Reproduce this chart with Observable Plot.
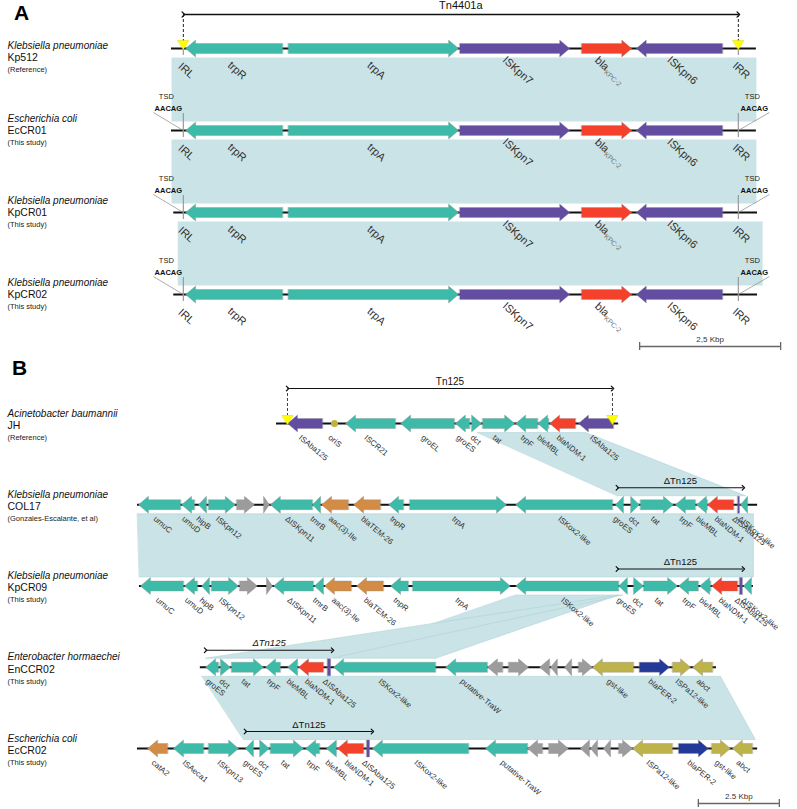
<!DOCTYPE html>
<html>
<head>
<meta charset="utf-8">
<script src="https://cdn.jsdelivr.net/npm/d3@7"></script>
<script src="https://cdn.jsdelivr.net/npm/@observablehq/plot@0.6"></script>
<style>
  html, body { margin: 0; padding: 0; background: #fff; }
  #chart svg { display: block; }
</style>
</head>
<body>
<div id="chart"></div>
<script>
// ======================= DATA =======================
// ---------- Panel A : Tn4401a (positions in kbp, aligned) ----------
const panelA_strains = ["Kp512", "EcCR01", "KpCR01", "KpCR02"];
const panelA_species = ["Klebsiella pneumoniae", "Escherichia coli", "Klebsiella pneumoniae", "Klebsiella pneumoniae"];
const panelA_sources = ["(Reference)", "(This study)", "(This study)", "(This study)"];
const panelA_contigs = [[0, 10.37], [0, 10.37], [0.04, 10.39], [0.04, 10.39]];
const panelA_genes = [ // name, start, end, strand, family
  ["trpR",     0.25, 1.97, -1, "gene"],
  ["trpA",     2.07, 5.09,  1, "gene"],
  ["ISKpn7",   5.11, 7.06,  1, "IS"],
  ["blaKPC-2", 7.27, 8.16,  1, "bla"],
  ["ISKpn6",   8.24, 9.77, -1, "IS"]
];
const panelA_repeats = [["IRL", 0.21], ["IRR", 10.05]];
const panelA_transposon = [["Tn4401a", 0.21, 10.05]];
const panelA_tsdStrains = [1, 2, 3];
const panelA_tsdSeq = "AACAG";
const panelA_homology = [ // upper, lower, upperStart, upperEnd, lowerStart, lowerEnd
  [0, 1, 0, 10.37, 0, 10.37],
  [1, 2, 0, 10.37, 0, 10.37],
  [2, 3, 0.11, 10.48, 0.11, 10.48]
];
const panelA_scale = [["2,5 Kbp", 8.30, 2.5]];

// ---------- Panel B : Tn125 (positions in kbp, aligned) ----------
const panelB_strains = ["JH", "COL17", "KpCR09", "EnCCR02", "EcCR02"];
const panelB_species = ["Acinetobacter baumannii", "Klebsiella pneumoniae", "Klebsiella pneumoniae", "Enterobacter hormaechei", "Escherichia coli"];
const panelB_sources = ["(Reference)", "(Gonzales-Escalante, et al)", "(This study)", "(This study)", "(This study)"];
const panelB_contigs = [[4.29, 14.85], [0, 19.14], [0.06, 19.01], [1.94, 17.87], [0, 19.14]];
const genes_JH = [
  ["ISAba125", 4.63, 5.71, -1, "IS"],
  ["ISCR21", 6.42, 7.96, -1, "gene"],
  ["groEL", 8.12, 9.78, -1, "gene"],
  ["groES", 9.81, 10.25, -1, "gene"],
  ["dct", 10.31, 10.62, 1, "gene"],
  ["tat", 10.65, 11.64, 1, "gene"],
  ["trpF", 11.67, 12.35, -1, "gene"],
  ["bleMBL", 12.35, 12.69, -1, "gene"],
  ["blaNDM-1", 12.72, 13.52, -1, "bla"],
  ["ISAba125", 13.61, 14.69, -1, "IS"]
];
const origin_JH = [["oriS", 6.08]];
const genes_COL17 = [
  ["umuC", 0.03, 1.33, -1, "gene"],
  ["umuD", 1.36, 1.76, -1, "gene"],
  ["hipB", 1.88, 2.13, -1, "gene"],
  ["ISKpn12", 2.19, 3.02, 1, "gene"],
  ["", 3.06, 3.61, 1, "hyp"],
  ["", 3.89, 4.07, 1, "hyp"],
  ["ΔISKpn11", 4.10, 5.40, -1, "gene"],
  ["tmrB", 5.40, 5.65, -1, "gene"],
  ["aac(3)-IIe", 5.68, 6.51, -1, "res"],
  ["blaTEM-26", 6.67, 7.50, -1, "res"],
  ["tnpR", 7.75, 8.21, -1, "gene"],
  ["trpA", 8.40, 11.39, 1, "gene"],
  ["ISKox2-like", 11.67, 14.66, -1, "gene"],
  ["groES", 14.75, 15.00, -1, "gene"],
  ["dct", 15.22, 15.49, 1, "gene"],
  ["tat", 15.52, 16.54, 1, "gene"],
  ["trpF", 16.60, 17.22, -1, "gene"],
  ["bleMBL", 17.25, 17.59, -1, "gene"],
  ["blaNDM-1", 17.59, 18.40, -1, "bla"],
  ["ΔISAba125", 18.52, 18.58, 0, "IS"],
  ["ΔISKox2-like", 18.61, 18.83, -1, "gene"]
];
const genes_KpCR09 = [
  ["umuC", 0.09, 1.42, -1, "gene"],
  ["umuD", 1.45, 1.85, -1, "gene"],
  ["hipB", 1.98, 2.22, -1, "gene"],
  ["ISKpn12", 2.28, 3.12, 1, "gene"],
  ["", 3.15, 3.70, 1, "hyp"],
  ["", 3.98, 4.17, 1, "hyp"],
  ["ΔISKpn11", 4.20, 5.43, -1, "gene"],
  ["tmrB", 5.46, 5.74, -1, "gene"],
  ["aac(3)-IIe", 5.77, 6.60, -1, "res"],
  ["blaTEM-26", 6.76, 7.59, -1, "res"],
  ["tnpR", 7.81, 8.36, -1, "gene"],
  ["trpA", 8.49, 11.51, 1, "gene"],
  ["ISKox2-like", 11.67, 14.85, -1, "gene"],
  ["groES", 14.85, 15.12, -1, "gene"],
  ["dct", 15.31, 15.62, 1, "gene"],
  ["tat", 15.62, 16.67, 1, "gene"],
  ["trpF", 16.70, 17.31, -1, "gene"],
  ["bleMBL", 17.35, 17.69, -1, "gene"],
  ["blaNDM-1", 17.72, 18.52, -1, "bla"],
  ["ΔISAba125", 18.58, 18.67, 0, "IS"],
  ["ΔISKox2-like", 18.70, 18.95, -1, "gene"]
];
const genes_EnCCR02 = [
  ["groES", 2.10, 2.50, -1, "gene"],
  ["dct", 2.56, 2.87, 1, "gene"],
  ["tat", 2.90, 3.89, 1, "gene"],
  ["trpF", 3.95, 4.41, -1, "gene"],
  ["bleMBL", 4.63, 4.94, -1, "gene"],
  ["blaNDM-1", 4.97, 5.74, -1, "bla"],
  ["ΔISAba125", 5.86, 5.96, 0, "IS"],
  ["ISKox2-like", 6.05, 9.20, -1, "gene"],
  ["putative-TraW", 9.51, 10.80, -1, "gene"],
  ["", 10.80, 11.27, -1, "hyp"],
  ["", 11.45, 12.07, 1, "hyp"],
  ["", 12.41, 12.72, -1, "hyp"],
  ["", 12.75, 12.96, -1, "hyp"],
  ["", 13.18, 13.40, -1, "hyp"],
  ["", 13.61, 14.04, 1, "hyp"],
  ["gst-like", 14.04, 15.31, -1, "olive"],
  ["blaPER-2", 15.49, 16.42, 1, "per"],
  ["ISPa12-like", 16.51, 17.07, 1, "olive"],
  ["abct", 17.13, 17.75, -1, "olive"]
];
const genes_EcCR02 = [
  ["catA2", 0.31, 0.93, -1, "res"],
  ["ISAeca1", 1.11, 2.04, -1, "gene"],
  ["ISKpn13", 2.19, 3.12, 1, "gene"],
  ["groES", 3.33, 3.58, -1, "gene"],
  ["dct", 3.77, 4.07, 1, "gene"],
  ["tat", 4.10, 5.12, 1, "gene"],
  ["trpF", 5.19, 5.62, -1, "gene"],
  ["bleMBL", 5.83, 6.14, -1, "gene"],
  ["blaNDM-1", 6.17, 6.98, -1, "bla"],
  ["ΔISAba125", 7.07, 7.16, 0, "IS"],
  ["ISKox2-like", 7.25, 10.22, -1, "gene"],
  ["putative-TraW", 10.74, 12.04, -1, "gene"],
  ["", 12.04, 12.50, -1, "hyp"],
  ["", 12.69, 13.30, 1, "hyp"],
  ["", 13.67, 13.95, -1, "hyp"],
  ["", 13.98, 14.20, -1, "hyp"],
  ["", 14.38, 14.60, -1, "hyp"],
  ["", 14.85, 15.28, 1, "hyp"],
  ["ISPa12-like", 15.28, 16.51, -1, "olive"],
  ["blaPER-2", 16.70, 17.62, 1, "per"],
  ["gst-like", 17.72, 18.30, 1, "olive"],
  ["abct", 18.36, 18.98, -1, "olive"]
];
const panelB_genes = [genes_JH, genes_COL17, genes_KpCR09, genes_EnCCR02, genes_EcCR02];
const panelB_transposon = [["Tn125", 4.63, 14.66]];
const panelB_deltaTn = [ // strain, start, end
  [1, 14.81, 18.70],
  [2, 14.81, 18.70],
  [3, 2.10, 6.02],
  [4, 3.33, 7.25]
];
const panelB_deltaLabel = "ΔTn125";
const panelB_homology = [ // upper, lower, upperStart, upperEnd, lowerStart, lowerEnd
  [0, 1, 10.49, 13.83, 14.81, 18.77],
  [1, 2, 0, 19.01, 0.06, 19.01],
  [2, 3, 11.67, 14.85, 6.05, 9.20],
  [2, 3, 14.85, 14.98, 2.10, 5.96],
  [3, 4, 1.99, 17.99, 3.27, 19.07]
];
const panelB_scale = [["2.5 Kbp", 17.31, 2.5]];

// ======================= STYLE / LAYOUT =======================
const FONT = "'Liberation Sans', Arial, Helvetica, sans-serif";
const COLORS = {gene: "#3ebba8", IS: "#624da0", bla: "#f4412b", hyp: "#9c9c9c",
                res: "#d28c46", olive: "#beb24b", per: "#243a99"};
const SHADE = "#c9e3e6";
const LA = {width: 797, height: 355, xr: [171, 756], xd: [0, 10.372], yr: [48, 294], n: 4};
const LB = {width: 797, height: 454, xr: [137, 757], xd: [0, 19.136], yr: [68, 393], n: 5};
const pxk = L => (L.xr[1] - L.xr[0]) / (L.xd[1] - L.xd[0]);   // px per kbp
const ppt = L => (L.yr[1] - L.yr[0]) / (L.n - 1);              // px per track

function flattenGenes(perTrack) {
  const rows = [];
  perTrack.forEach((list, t) => list.forEach(g =>
    rows.push({track: t, name: g[0], start: g[1], end: g[2], strand: g[3], type: g[4]})));
  return rows;
}
function arrowVerts(rows, L) {
  const k = pxk(L), p = ppt(L), out = [];
  const bh = 5 / p, hh = 8.5 / p;
  rows.forEach((g, id) => {
    const head = Math.min(10 / k, g.end - g.start);
    let pts;
    if (g.strand > 0) { const b = g.end - head; pts = [[g.start,-bh],[b,-bh],[b,-hh],[g.end,0],[b,hh],[b,bh],[g.start,bh]]; }
    else if (g.strand < 0) { const b = g.start + head; pts = [[g.end,-bh],[b,-bh],[b,-hh],[g.start,0],[b,hh],[b,bh],[g.end,bh]]; }
    else { pts = [[g.start,-hh],[g.end,-hh],[g.end,hh],[g.start,hh]]; }
    pts.forEach(([x, d]) => out.push({id, x, y: g.track + d, fill: COLORS[g.type]}));
  });
  return out;
}
function homologyVerts(rows, L) {
  const p = ppt(L), out = [];
  rows.forEach((h, id) => {
    const yu = h[0] + 9 / p, yl = h[1] - 9 / p;
    [[h[2], yu], [h[3], yu], [h[5], yl], [h[4], yl]].forEach(([x, y]) => out.push({id, x, y}));
  });
  return out;
}
function triangleVerts(positions, track, L) {
  const k = pxk(L), p = ppt(L), out = [];
  positions.forEach((x, id) => {
    [[x - 5.5 / k, -8 / p], [x + 5.5 / k, -8 / p], [x, 1 / p]].forEach(([vx, d]) => out.push({id, x: vx, y: track + d}));
  });
  return out;
}
function speciesMarks(species, strains, sources, L, offs, nudge) {
  const p = ppt(L);
  const y = o => (d, i) => i + (o + (nudge ? nudge[i] : 0)) / p;
  return [
    Plot.text(species, {frameAnchor: "left", y: y(offs[0]), text: d => d, dx: 7, textAnchor: "start",
      fontSize: 10, fontStyle: "italic", fill: "#111"}),
    Plot.text(strains, {frameAnchor: "left", y: y(offs[1]), text: d => d, dx: 7, textAnchor: "start",
      fontSize: 10.5, fill: "#111"}),
    Plot.text(sources, {frameAnchor: "left", y: y(offs[2]), text: d => d, dx: 7, textAnchor: "start",
      fontSize: 7.5, fill: "#222"})
  ];
}
function scaleMarks(scale, track, off, L) {
  const p = ppt(L), yb = track + off / p;
  return [
    Plot.ruleY(scale, {x1: d => d[1], x2: d => d[1] + d[2], y: () => yb, stroke: "#666", strokeWidth: 1.3}),
    Plot.ruleX(scale.flatMap(d => [d[1], d[1] + d[2]]), {x: d => d, y1: () => yb - 4 / p, y2: () => yb + 4 / p, stroke: "#666", strokeWidth: 1.3}),
    Plot.text(scale, {x: d => d[1] + d[2] / 2, y: () => yb - 7 / p, text: d => d[0], fontSize: 8, fill: "#333"})
  ];
}
function panelLetter(letter, dx, dy) {
  return Plot.text([letter], {frameAnchor: "top-left", text: d => d, dx, dy, lineAnchor: "middle",
    textAnchor: "middle", fontSize: 21, fontWeight: "bold", fill: "#000"});
}

// ======================= PANEL A =======================
const pA = ppt(LA), kA = pxk(LA);
const rowsA = flattenGenes(panelA_strains.map(() => panelA_genes));
const irl = panelA_repeats[0][1], irr = panelA_repeats[1][1];
const labelRowsA = [];
panelA_strains.forEach((s, t) => {
  panelA_repeats.forEach(r => labelRowsA.push({track: t, name: r[0], pos: r[1]}));
  panelA_genes.forEach(g => labelRowsA.push({track: t, name: g[0], pos: (g[1] + g[2]) / 2}));
});
const tnYA = -34 / pA;

const plotA = Plot.plot({
  width: LA.width, height: LA.height, margin: 0,
  x: {domain: LA.xd, range: LA.xr, axis: null},
  y: {domain: [0, LA.n - 1], range: LA.yr, axis: null},
  color: {type: "identity"},
  style: {fontFamily: FONT, background: "#fff", overflow: "visible"},
  marks: [
    Plot.line(homologyVerts(panelA_homology, LA), {x: "x", y: "y", z: "id", fill: SHADE, stroke: "none", curve: "linear-closed"}),
    Plot.ruleY(panelA_contigs, {y: (d, i) => i, x1: d => d[0], x2: d => d[1], stroke: "#111", strokeWidth: 2}),
    Plot.ruleX(panelA_strains.flatMap((s, t) => [{t, x: irl}, {t, x: irr}]), {
      x: "x", y1: d => d.t - (d.t === 0 ? 7 : 17) / pA, y2: d => d.t + 7 / pA, stroke: "#999", strokeWidth: 1.2}),
    Plot.line(arrowVerts(rowsA, LA), {x: "x", y: "y", z: "id", fill: "fill", stroke: "#8a8a8a",
      strokeOpacity: 0.5, strokeWidth: 0.7, curve: "linear-closed"}),
    Plot.link(panelA_transposon, {x1: d => d[1], x2: d => d[2], y1: () => tnYA, y2: () => tnYA,
      stroke: "#111", strokeWidth: 1.3, markerStart: "arrow", markerEnd: "arrow"}),
    Plot.ruleX(panelA_transposon.flatMap(d => [d[1], d[2]]), {x: d => d, y1: () => tnYA, y2: () => -7 / pA,
      stroke: "#222", strokeWidth: 1, strokeDasharray: "3,2"}),
    Plot.text(panelA_transposon, {x: d => (d[1] + d[2]) / 2, y: () => -43 / pA, text: d => d[0], fontSize: 11, fill: "#111"}),
    Plot.line(triangleVerts([irl, irr], 0, LA), {x: "x", y: "y", z: "id", fill: "#ffff00", stroke: "#d8d800", strokeWidth: 0.5, curve: "linear-closed"}),
    Plot.link(panelA_tsdStrains, {x1: () => irl - 30 / kA, y1: d => d - 18 / pA, x2: () => irl, y2: d => d, stroke: "#888", strokeWidth: 0.7}),
    Plot.link(panelA_tsdStrains, {x1: () => irr + 31 / kA, y1: d => d - 18 / pA, x2: () => irr, y2: d => d, stroke: "#888", strokeWidth: 0.7}),
    Plot.text(panelA_tsdStrains, {x: () => irl, y: d => d - 34 / pA, text: () => "TSD", dx: -17, fontSize: 7.5, fill: "#222"}),
    Plot.text(panelA_tsdStrains, {x: () => irl, y: d => d - 22 / pA, text: () => panelA_tsdSeq, dx: -15, fontSize: 7.5, fontWeight: "bold", fill: "#111"}),
    Plot.text(panelA_tsdStrains, {x: () => irr, y: d => d - 34 / pA, text: () => "TSD", dx: 14, fontSize: 7.5, fill: "#222"}),
    Plot.text(panelA_tsdStrains, {x: () => irr, y: d => d - 22 / pA, text: () => panelA_tsdSeq, dx: 16, fontSize: 7.5, fontWeight: "bold", fill: "#111"}),
    Plot.text(labelRowsA, {x: "pos", y: "track", text: "name", rotate: 42, textAnchor: "middle",
      dx: 3, dy: 22, fontSize: 11, fill: "#333"}),
    ...speciesMarks(panelA_species, panelA_strains, panelA_sources, LA, [-12, 0, 12], [9, 0, 0, 0]),
    ...scaleMarks(panelA_scale, LA.n - 1, 52, LA),
    panelLetter("A", 21, 12.5)
  ]
});

// ======================= PANEL B =======================
const pB = ppt(LB), kB = pxk(LB);
const rowsB = flattenGenes(panelB_genes);
const labelRowsB = rowsB.filter(g => g.name).map(g => ({track: g.track, name: g.name, pos: (g.start + g.end) / 2}));
origin_JH.forEach(o => labelRowsB.push({track: 0, name: o[0], pos: o[1]}));
const tnYB = -35 / pB;
const italicDelta = [3];

const plotB = Plot.plot({
  width: LB.width, height: LB.height, margin: 0,
  x: {domain: LB.xd, range: LB.xr, axis: null},
  y: {domain: [0, LB.n - 1], range: LB.yr, axis: null},
  color: {type: "identity"},
  style: {fontFamily: FONT, background: "#fff", overflow: "visible"},
  marks: [
    Plot.line(homologyVerts(panelB_homology, LB), {x: "x", y: "y", z: "id", fill: SHADE, stroke: "#a9cfd4",
      strokeWidth: 0.5, curve: "linear-closed"}),
    Plot.ruleY(panelB_contigs, {y: (d, i) => i, x1: d => d[0], x2: d => d[1], stroke: "#111", strokeWidth: 2}),
    Plot.line(arrowVerts(rowsB, LB), {x: "x", y: "y", z: "id", fill: "fill", stroke: "#8a8a8a",
      strokeOpacity: 0.5, strokeWidth: 0.7, curve: "linear-closed"}),
    Plot.dot(origin_JH, {x: d => d[1], y: () => 0, r: 3.5, fill: "#bdb43c", stroke: "none"}),
    Plot.link(panelB_transposon, {x1: d => d[1], x2: d => d[2], y1: () => tnYB, y2: () => tnYB,
      stroke: "#111", strokeWidth: 1.2, markerStart: "arrow", markerEnd: "arrow"}),
    Plot.ruleX(panelB_transposon.flatMap(d => [d[1], d[2]]), {x: d => d, y1: () => tnYB, y2: () => -8 / pB,
      stroke: "#444", strokeWidth: 1, strokeDasharray: "3,2"}),
    Plot.text(panelB_transposon, {x: d => (d[1] + d[2]) / 2, y: () => -42 / pB, text: d => d[0], fontSize: 10, fill: "#111"}),
    Plot.line(triangleVerts(panelB_transposon.flatMap(d => [d[1], d[2]]), 0, LB), {x: "x", y: "y", z: "id",
      fill: "#ffff00", stroke: "#d8d800", strokeWidth: 0.5, curve: "linear-closed"}),
    Plot.link(panelB_deltaTn, {x1: d => d[1], x2: d => d[2], y1: d => d[0] - 17 / pB, y2: d => d[0] - 17 / pB,
      stroke: "#111", strokeWidth: 1.2, markerStart: "arrow", markerEnd: "arrow"}),
    Plot.text(panelB_deltaTn.filter(d => !italicDelta.includes(d[0])), {x: d => (d[1] + d[2]) / 2, y: d => d[0] - 24 / pB,
      text: () => panelB_deltaLabel, fontSize: 9.5, fill: "#111"}),
    Plot.text(panelB_deltaTn.filter(d => italicDelta.includes(d[0])), {x: d => (d[1] + d[2]) / 2, y: d => d[0] - 24 / pB,
      text: () => panelB_deltaLabel, fontSize: 9.5, fontStyle: "italic", fill: "#111"}),
    Plot.text(labelRowsB, {x: "pos", y: "track", text: "name", rotate: 40, textAnchor: "start",
      dx: -5, dy: 13, fontSize: 8, fill: "#333"}),
    ...speciesMarks(panelB_species, panelB_strains, panelB_sources, LB, [-10, 2, 14]),
    ...scaleMarks(panelB_scale, LB.n - 1, 55, LB),
    panelLetter("B", 19, 13)
  ]
});

// subscript for the KPC allele in panel A
d3.select(plotA).selectAll("text").each(function () {
  if (this.textContent === "blaKPC-2") {
    const t = d3.select(this);
    t.text("");
    t.append("tspan").text("bla");
    t.append("tspan").attr("font-size", 7).attr("dy", "0.35em").attr("fill", "#777").text("KPC-2");
  }
});

document.getElementById("chart").append(plotA, plotB);
</script>
</body>
</html>
